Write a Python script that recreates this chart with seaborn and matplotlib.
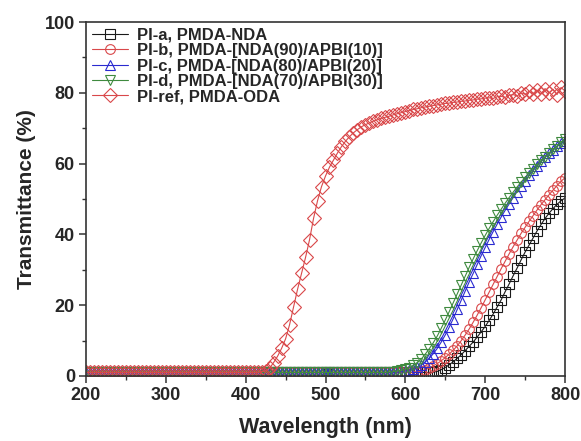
import numpy as np
import pandas as pd
import matplotlib
matplotlib.use("Agg")
import matplotlib.pyplot as plt
import seaborn as sns
from matplotlib.ticker import MultipleLocator

# wavelength grid (nm)
wavelength = np.arange(200, 805, 5)

# transmittance (%), one row = 50 nm
pi_a = [1.0, 1.0, 1.0, 1.0, 1.0, 1.0, 1.0, 1.0, 1.0, 1.0,
        1.0, 1.0, 1.0, 1.0, 1.0, 1.0, 1.0, 1.0, 1.0, 1.0,
        1.0, 1.0, 1.0, 1.0, 1.0, 1.0, 1.0, 1.0, 1.0, 1.0,
        1.0, 1.0, 1.0, 1.0, 1.0, 1.0, 1.0, 1.0, 1.0, 1.0,
        1.0, 1.0, 1.0, 1.0, 1.0, 1.0, 1.0, 1.0, 1.0, 1.0,
        1.0, 1.0, 1.0, 1.0, 1.0, 1.0, 1.0, 1.0, 1.0, 1.0,
        1.0, 1.0, 1.0, 1.0, 1.0, 1.0, 1.0, 1.0, 1.0, 1.0,
        1.0, 1.0, 1.0, 1.0, 1.0, 1.0, 1.0, 1.0, 1.0, 1.0,
        1.0, 1.0, 1.0, 1.0, 1.0, 1.0, 1.0, 1.1, 1.3, 1.8,
        2.4, 3.2, 4.0, 5.0, 6.0, 7.2, 8.4, 9.6, 11.0, 12.5,
        14.0, 15.7, 17.5, 19.5, 21.5, 23.8, 26.0, 28.3, 30.5, 32.8,
        35.0, 37.0, 39.0, 41.0, 42.8, 44.5, 46.0, 47.3, 48.5, 49.5,
        50.3]

pi_b = [1.0, 1.0, 1.0, 1.0, 1.0, 1.0, 1.0, 1.0, 1.0, 1.0,
        1.0, 1.0, 1.0, 1.0, 1.0, 1.0, 1.0, 1.0, 1.0, 1.0,
        1.0, 1.0, 1.0, 1.0, 1.0, 1.0, 1.0, 1.0, 1.0, 1.0,
        1.0, 1.0, 1.0, 1.0, 1.0, 1.0, 1.0, 1.0, 1.0, 1.0,
        1.0, 1.0, 1.0, 1.0, 1.0, 1.0, 1.0, 1.0, 1.0, 1.0,
        1.0, 1.0, 1.0, 1.0, 1.0, 1.0, 1.0, 1.0, 1.0, 1.0,
        1.0, 1.0, 1.0, 1.0, 1.0, 1.0, 1.0, 1.0, 1.0, 1.0,
        1.0, 1.0, 1.0, 1.0, 1.0, 1.0, 1.0, 1.0, 1.0, 1.0,
        1.0, 1.0, 1.1, 1.2, 1.4, 1.8, 2.3, 2.9, 3.5, 4.3,
        5.2, 6.2, 7.3, 8.5, 10.0, 11.6, 13.3, 15.2, 17.2, 19.3,
        21.5, 23.7, 25.9, 28.1, 30.3, 32.4, 34.5, 36.5, 38.4, 40.3,
        42.0, 43.7, 45.3, 46.9, 48.4, 49.8, 51.2, 52.5, 53.8, 55.0,
        56.0]

pi_c = [1.0, 1.0, 1.0, 1.0, 1.0, 1.0, 1.0, 1.0, 1.0, 1.0,
        1.0, 1.0, 1.0, 1.0, 1.0, 1.0, 1.0, 1.0, 1.0, 1.0,
        1.0, 1.0, 1.0, 1.0, 1.0, 1.0, 1.0, 1.0, 1.0, 1.0,
        1.0, 1.0, 1.0, 1.0, 1.0, 1.0, 1.0, 1.0, 1.0, 1.0,
        1.0, 1.0, 1.0, 1.0, 1.0, 1.0, 1.0, 1.0, 1.0, 1.0,
        1.0, 1.0, 1.0, 1.0, 1.0, 1.0, 1.0, 1.0, 1.0, 1.0,
        1.0, 1.0, 1.0, 1.0, 1.0, 1.0, 1.0, 1.0, 1.0, 1.0,
        1.0, 1.0, 1.0, 1.0, 1.0, 1.0, 1.0, 1.0, 1.1, 1.2,
        1.4, 1.7, 2.1, 2.6, 3.2, 4.0, 5.0, 6.3, 7.8, 9.6,
        11.6, 13.8, 16.2, 18.8, 21.4, 24.0, 26.6, 29.0, 31.5, 34.0,
        36.3, 38.6, 40.8, 42.9, 44.9, 46.8, 48.6, 50.4, 52.1, 53.7,
        55.2, 56.7, 58.1, 59.4, 60.6, 61.8, 62.9, 63.9, 64.9, 65.8,
        66.5]

pi_d = [1.0, 1.0, 1.0, 1.0, 1.0, 1.0, 1.0, 1.0, 1.0, 1.0,
        1.0, 1.0, 1.0, 1.0, 1.0, 1.0, 1.0, 1.0, 1.0, 1.0,
        1.0, 1.0, 1.0, 1.0, 1.0, 1.0, 1.0, 1.0, 1.0, 1.0,
        1.0, 1.0, 1.0, 1.0, 1.0, 1.0, 1.0, 1.0, 1.0, 1.0,
        1.0, 1.0, 1.0, 1.0, 1.0, 1.0, 1.0, 1.0, 1.0, 1.0,
        1.0, 1.0, 1.0, 1.0, 1.0, 1.0, 1.0, 1.0, 1.0, 1.0,
        1.0, 1.0, 1.0, 1.0, 1.0, 1.0, 1.0, 1.0, 1.0, 1.0,
        1.0, 1.0, 1.0, 1.0, 1.0, 1.0, 1.1, 1.2, 1.4, 1.6,
        1.9, 2.3, 3.0, 3.8, 4.8, 6.2, 7.7, 9.4, 11.3, 13.5,
        15.8, 18.2, 20.7, 23.2, 25.7, 28.2, 30.7, 33.1, 35.4, 37.6,
        39.7, 41.7, 43.6, 45.4, 47.1, 48.8, 50.4, 51.9, 53.4, 54.8,
        56.1, 57.4, 58.6, 59.8, 60.9, 62.0, 63.0, 64.0, 65.0, 66.0,
        67.0]

pi_ref = [1.0, 1.0, 1.0, 1.0, 1.0, 1.0, 1.0, 1.0, 1.0, 1.0,
          1.0, 1.0, 1.0, 1.0, 1.0, 1.0, 1.0, 1.0, 1.0, 1.0,
          1.0, 1.0, 1.0, 1.0, 1.0, 1.0, 1.0, 1.0, 1.0, 1.0,
          1.0, 1.0, 1.0, 1.0, 1.0, 1.0, 1.0, 1.0, 1.0, 1.0,
          1.0, 1.0, 1.0, 1.0, 1.2, 1.5, 2.2, 3.8, 5.6, 7.8,
          10.5, 14.5, 19.5, 24.5, 29.0, 33.5, 38.5, 44.5, 49.5, 53.5,
          56.5, 59.0, 61.0, 63.0, 64.8, 66.3, 67.6, 68.7, 69.6, 70.4,
          71.0, 71.5, 72.0, 72.4, 72.8, 73.1, 73.4, 73.8, 74.1, 74.4,
          74.7, 75.0, 75.3, 75.5, 75.8, 76.0, 76.2, 76.4, 76.6, 76.8,
          77.0, 77.1, 77.3, 77.4, 77.6, 77.7, 77.9, 78.0, 78.2, 78.3,
          78.5, 78.6, 78.4, 78.9, 79.0, 78.7, 79.3, 79.5, 79.1, 80.0,
          79.6, 80.4, 79.8, 80.8, 79.7, 81.2, 79.9, 81.0, 79.5, 81.5,
          80.5]

labels = ["PI-a, PMDA-NDA",
          "PI-b, PMDA-[NDA(90)/APBI(10)]",
          "PI-c, PMDA-[NDA(80)/APBI(20)]",
          "PI-d, PMDA-[NDA(70)/APBI(30)]",
          "PI-ref, PMDA-ODA"]
series = [pi_a, pi_b, pi_c, pi_d, pi_ref]
colors = ["#1a1a1a", "#d9484a", "#2a2ad0", "#3f8a3f", "#d9484a"]
markers = ["s", "o", "^", "v", "D"]
msizes = [6.5, 7, 7.5, 7.5, 7.5]

sns.set_style("ticks")
plt.rcParams["font.family"] = ["Liberation Sans", "DejaVu Sans"]
plt.rcParams["font.weight"] = "bold"

fig = plt.figure(figsize=(5.81, 4.41), dpi=100)
ax = fig.add_axes([0.148, 0.1474, 0.8245, 0.8027])

for y, lab, c, m, ms in zip(series, labels, colors, markers, msizes):
    sns.lineplot(x=wavelength, y=y, ax=ax, color=c, marker=m, markersize=ms,
                 mfc="none", mec=c, mew=0.8, lw=0.8, label=lab)

ax.set_xlim(200, 800)
ax.set_ylim(0, 100)
ax.xaxis.set_major_locator(MultipleLocator(100))
ax.xaxis.set_minor_locator(MultipleLocator(50))
ax.yaxis.set_major_locator(MultipleLocator(20))
ax.yaxis.set_minor_locator(MultipleLocator(10))
ax.tick_params(which="major", direction="out", length=5, width=1.1,
               labelsize=13, color="#333333", pad=3)
ax.tick_params(which="minor", direction="out", length=3, width=1.0, color="#333333")
for sp in ax.spines.values():
    sp.set_linewidth(1.2)
    sp.set_color("#333333")

ax.set_xlabel("Wavelength (nm)", fontsize=15.5, fontweight="bold", labelpad=9)
ax.set_ylabel("Transmittance (%)", fontsize=15, fontweight="bold", labelpad=6)

ax.legend(loc="upper left", frameon=False, fontsize=12, handlelength=2.2,
          handletextpad=0.5, labelspacing=0.02, borderaxespad=0.2, borderpad=0.15)

fig.savefig("out.png", dpi=100)
